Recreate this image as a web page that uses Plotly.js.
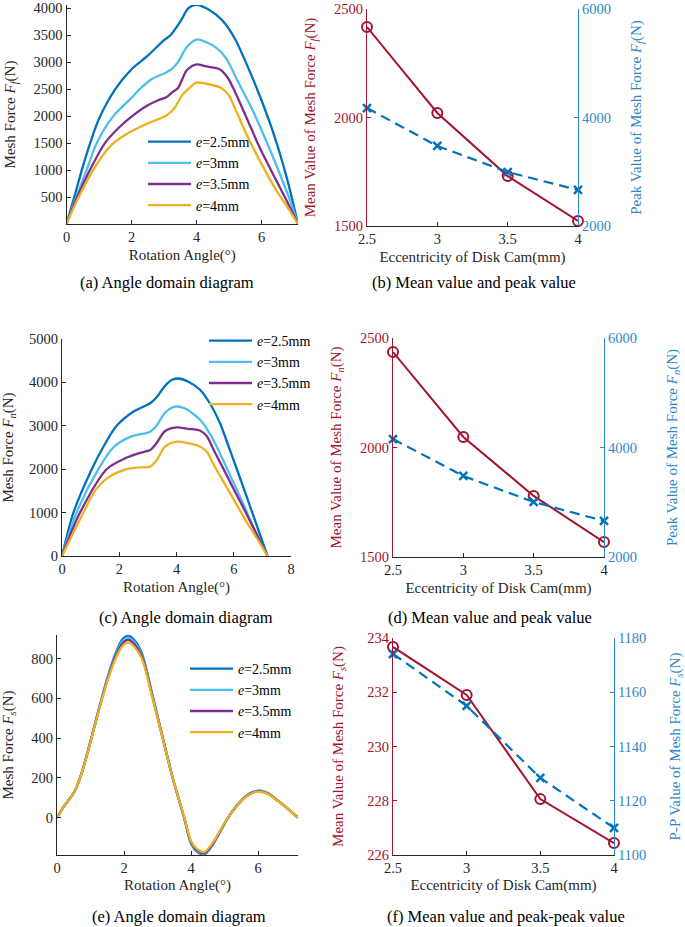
<!DOCTYPE html>
<html><head><meta charset="utf-8">
<script src="https://cdn.plot.ly/plotly-3.0.1.min.js"></script>
<style>html,body{margin:0;padding:0;background:#fff}#chart{width:685px;height:927px}</style>
</head><body><div id="chart"></div>
<script>
// ---------- DATA ----------
var seriesNames = ['<i>e</i>=2.5mm', '<i>e</i>=3mm', '<i>e</i>=3.5mm', '<i>e</i>=4mm'];
var eccentricity = [2.5, 3, 3.5, 4];

// (a) Mesh force F_f vs rotation angle
var aX25 = [0, 0.24, 0.47, 0.7, 1.0, 1.5, 2.0, 2.5, 3.0, 3.2, 3.5, 3.75, 4.0, 4.3, 4.6, 4.9, 5.2, 5.6, 6.0, 6.4, 6.8, 7.12];
var aY25 = [0, 500, 1000, 1450, 1950, 2500, 2870, 3120, 3410, 3500, 3750, 4000, 4065, 4000, 3880, 3700, 3410, 2880, 2290, 1620, 800, 0];
var aX30 = [0, 0.3, 0.62, 0.93, 1.44, 2.0, 2.25, 2.6, 3.07, 3.25, 3.43, 3.7, 4.0, 4.3, 4.6, 4.9, 5.3, 5.7, 6.1, 6.5, 6.85, 7.12];
var aY30 = [0, 500, 1000, 1500, 2000, 2340, 2500, 2680, 2810, 2880, 3000, 3280, 3420, 3370, 3270, 3080, 2610, 2140, 1600, 1020, 480, 0];
var aX35 = [0, 0.33, 0.72, 1.18, 1.6, 2.0, 2.5, 2.8, 3.07, 3.25, 3.43, 3.7, 4.0, 4.3, 4.71, 4.95, 5.12, 5.53, 5.94, 6.45, 6.8, 7.12];
var aY35 = [0, 500, 1000, 1500, 1780, 1990, 2200, 2290, 2350, 2440, 2520, 2850, 2960, 2920, 2870, 2720, 2530, 1980, 1420, 810, 400, 0];
var aX40 = [0, 0.36, 0.82, 1.2, 1.44, 1.85, 2.2, 2.6, 3.07, 3.3, 3.55, 3.74, 4.0, 4.3, 4.76, 5.0, 5.12, 5.53, 5.94, 6.45, 6.8, 7.12];
var aY40 = [0, 480, 1000, 1340, 1500, 1670, 1780, 1890, 2010, 2130, 2380, 2500, 2620, 2600, 2520, 2380, 2230, 1670, 1180, 626, 310, 0];

// (b) mean / peak of F_f
var bMean = [2417, 2021, 1730, 1523];
var bPeak = [4175, 3475, 2995, 2664];

// (c) Mesh force F_n vs rotation angle
var cX25 = [0, 0.4, 1.04, 1.5, 1.91, 2.5, 3.08, 3.3, 3.6, 3.85, 4.05, 4.4, 4.83, 5.2, 5.52, 5.9, 6.3, 6.7, 7.18];
var cY25 = [0, 1000, 2000, 2580, 3000, 3330, 3520, 3650, 3920, 4060, 4090, 4020, 3825, 3480, 3060, 2380, 1650, 900, 0];
var cX30 = [0, 0.51, 1.27, 1.79, 2.4, 3.08, 3.3, 3.6, 3.95, 4.3, 4.83, 5.2, 5.52, 5.9, 6.3, 6.7, 7.18];
var cY30 = [0, 1000, 2000, 2500, 2750, 2865, 3000, 3300, 3440, 3400, 3134, 2780, 2360, 1820, 1250, 650, 0];
var cX35 = [0, 0.63, 1.56, 2.2, 2.7, 3.08, 3.3, 3.6, 4.01, 4.4, 4.83, 5.06, 5.3, 5.6, 6.0, 6.4, 6.8, 7.18];
var cY35 = [0, 1000, 2000, 2250, 2370, 2440, 2600, 2880, 2965, 2930, 2887, 2760, 2440, 2060, 1540, 1030, 500, 0];
var cX40 = [0, 0.75, 1.15, 1.6, 2.26, 2.7, 3.08, 3.3, 3.6, 4.01, 4.4, 4.83, 5.06, 5.3, 5.6, 6.0, 6.4, 6.8, 7.18];
var cY40 = [0, 1000, 1500, 1800, 2000, 2040, 2060, 2200, 2520, 2634, 2600, 2519, 2404, 2100, 1760, 1300, 840, 420, 0];

// (d) mean / peak of F_n
var dMean = [2436, 2048, 1779, 1568];
var dPeak = [4155, 3480, 3005, 2658];

// (e) Mesh force F_s vs rotation angle
var eX = [0, 0.2, 0.38, 0.55, 0.75, 1.0, 1.25, 1.5, 1.75, 1.95, 2.13, 2.3, 2.53, 2.85, 3.15, 3.45, 3.8, 4.0, 4.2, 4.4, 4.65, 4.9, 5.1, 5.35, 5.6, 5.85, 6.06, 6.3, 6.6, 6.9, 7.19];
var eY25 = [0, 55, 95, 140, 232, 384, 548, 700, 826, 896, 915, 894, 826, 615, 406, 200, -6, -131, -174, -186, -136, -62, -2, 57, 103, 129, 135, 122, 84, 43, 0];
var eY30 = [0, 55, 95, 140, 231, 383, 545, 695, 818, 886, 905, 884, 818, 610, 404, 200, -4, -128, -170, -182, -133, -60, -1, 56, 102, 128, 134, 121, 84, 43, 0];
var eY35 = [0, 55, 95, 140, 230, 382, 542, 690, 810, 875, 893, 873, 810, 605, 402, 200, -2, -125, -166, -178, -130, -58, 0, 56, 101, 127, 132, 120, 83, 42, 0];
var eY40 = [0, 55, 95, 140, 230, 380, 540, 685, 800, 862, 880, 860, 800, 600, 400, 200, 0, -120, -160, -172, -125, -55, 0, 55, 100, 125, 130, 118, 82, 42, 0];

// (f) mean / peak-peak of F_s
var fMean = [233.67, 231.9, 228.06, 226.44];
var fPP = [1174.1, 1155, 1128.4, 1110];

// ---------- STYLE ----------
var W = 685, H = 927;
var FONT = '"Liberation Serif", "Times New Roman", Times, serif';
var DARK = '#262626';
var RED = '#A2142F';
var BLUE = '#0072BD';
var BLUEAX = '#2C88C8';
var lineColors = ['#0072BD', '#4DBEEE', '#7E2F8E', '#EDB120'];

function dx(a, b) { return [a / W, b / W]; }
function dy(top, bottom) { return [1 - bottom / H, 1 - top / H]; }

function axis(extra, color) {
  var c = color || DARK;
  var base = {
    showline: true, linecolor: c, linewidth: 1, ticks: 'inside', ticklen: 4, tickwidth: 1,
    tickcolor: c, showgrid: false, zeroline: false, automargin: false,
    tickfont: {family: FONT, size: 14.5, color: c}
  };
  return Object.assign(base, extra);
}
function ttl(text, color, standoff) {
  return {text: text, font: {family: FONT, size: 15, color: color || DARK}, standoff: standoff};
}

var traces = [];
function addCurves(xs, ys, xa, ya, leg) {
  for (var i = 0; i < 4; i++) {
    traces.push({
      x: xs[i], y: ys[i], xaxis: xa, yaxis: ya, mode: 'lines', name: seriesNames[i],
      legend: leg, line: {color: lineColors[i], width: 2.3, shape: 'spline', smoothing: 0.8}
    });
  }
}
addCurves([aX25, aX30, aX35, aX40], [aY25, aY30, aY35, aY40], 'x', 'y', 'legend');
addCurves([cX25, cX30, cX35, cX40], [cY25, cY30, cY35, cY40], 'x3', 'y4', 'legend2');
addCurves([eX, eX, eX, eX], [eY25, eY30, eY35, eY40], 'x5', 'y7', 'legend3');

function addPair(mean, peak, xa, yl, yr) {
  traces.push({
    x: eccentricity, y: mean, xaxis: xa, yaxis: yl, mode: 'lines+markers', showlegend: false, cliponaxis: false,
    line: {color: RED, width: 2}, marker: {symbol: 'circle-open', size: 10, color: RED, line: {width: 2, color: RED}}
  });
  traces.push({
    x: eccentricity, y: peak, xaxis: xa, yaxis: yr, mode: 'lines+markers', showlegend: false, cliponaxis: false,
    line: {color: BLUE, width: 2.2, dash: '10px,6px'}, marker: {symbol: 'x-thin-open', size: 8, color: BLUE, line: {width: 2.5, color: BLUE}}
  });
}
addPair(bMean, bPeak, 'x2', 'y2', 'y3');
addPair(dMean, dPeak, 'x4', 'y5', 'y6');
addPair(fMean, fPP, 'x6', 'y8', 'y9');

var eTicks = [2.5, 3, 3.5, 4];
var eTickText = ['2.5', '3', '3.5', '4'];

function legendAt(left, top) {
  return {x: left / W, y: 1 - top / H, xanchor: 'left', yanchor: 'top', bgcolor: 'rgba(0,0,0,0)',
    borderwidth: 0, font: {family: FONT, size: 14, color: '#000'}, itemwidth: 43, tracegroupgap: 0};
}

var layout = {
  width: W, height: H, margin: {l: 0, r: 0, t: 0, b: 0},
  paper_bgcolor: '#fff', plot_bgcolor: 'rgba(0,0,0,0)',
  font: {family: FONT, size: 14, color: DARK},
  // (a)
  xaxis: axis({domain: dx(66.5, 298), range: [0, 7.12], tickvals: [0, 2, 4, 6], anchor: 'y',
    title: ttl('Rotation Angle(°)', DARK, 5)}),
  yaxis: axis({domain: dy(5, 224), range: [0, 4060], tickvals: [500, 1000, 1500, 2000, 2500, 3000, 3500, 4000], anchor: 'x',
    title: ttl('Mesh Force <i>F</i><sub><i>f</i></sub>(N)', DARK, 14)}),
  // (b)
  xaxis2: axis({domain: dx(367, 578), range: [2.5, 4], tickvals: eTicks, ticktext: eTickText, anchor: 'y2',
    title: ttl('Eccentricity of Disk Cam(mm)', DARK, 5)}),
  yaxis2: axis({domain: dy(9, 226), range: [1500, 2500], tickvals: [1500, 2000, 2500], anchor: 'x2',
    title: ttl('Mean Value of Mesh Force <i>F</i><sub><i>f</i></sub>(N)', RED, 14)}, RED),
  yaxis3: axis({domain: dy(9, 226), range: [2000, 6000], tickvals: [2000, 4000, 6000], anchor: 'x2', overlaying: 'y2', side: 'right',
    title: ttl('Peak Value of Mesh Force <i>F</i><sub><i>f</i></sub>(N)', BLUEAX, 20)}, BLUEAX),
  // (c)
  xaxis3: axis({domain: dx(62, 291), range: [0, 8], tickvals: [0, 2, 4, 6, 8], anchor: 'y4',
    title: ttl('Rotation Angle(°)', DARK, 5)}),
  yaxis4: axis({domain: dy(339, 556), range: [0, 5000], tickvals: [0, 1000, 2000, 3000, 4000, 5000], anchor: 'x3',
    title: ttl('Mesh Force <i>F</i><sub><i>n</i></sub>(N)', DARK, 14)}),
  // (d)
  xaxis4: axis({domain: dx(393, 604), range: [2.5, 4], tickvals: eTicks, ticktext: eTickText, anchor: 'y5',
    title: ttl('Eccentricity of Disk Cam(mm)', DARK, 5)}),
  yaxis5: axis({domain: dy(338, 557), range: [1500, 2500], tickvals: [1500, 2000, 2500], anchor: 'x4',
    title: ttl('Mean Value of Mesh Force <i>F</i><sub><i>n</i></sub>(N)', RED, 14)}, RED),
  yaxis6: axis({domain: dy(338, 557), range: [2000, 6000], tickvals: [2000, 4000, 6000], anchor: 'x4', overlaying: 'y5', side: 'right',
    title: ttl('Peak Value of Mesh Force <i>F</i><sub><i>n</i></sub>(N)', BLUEAX, 30)}, BLUEAX),
  // (e)
  xaxis5: axis({domain: dx(57, 298), range: [0, 7.19], tickvals: [0, 2, 4, 6], anchor: 'y7',
    title: ttl('Rotation Angle(°)', DARK, 4)}),
  yaxis7: axis({domain: dy(635, 855), range: [-188, 918], tickvals: [0, 200, 400, 600, 800], anchor: 'x5',
    title: ttl('Mesh Force <i>F</i><sub><i>s</i></sub>(N)', DARK, 16)}),
  // (f)
  xaxis6: axis({domain: dx(393, 614), range: [2.5, 4], tickvals: eTicks, ticktext: eTickText, anchor: 'y8',
    title: ttl('Eccentricity of Disk Cam(mm)', DARK, 4)}),
  yaxis8: axis({domain: dy(638, 855), range: [226, 234], tickvals: [226, 228, 230, 232, 234], anchor: 'x6',
    title: ttl('Mean Value of Mesh Force <i>F</i><sub><i>s</i></sub>(N)', RED, 20)}, RED),
  yaxis9: axis({domain: dy(638, 855), range: [1100, 1180], tickvals: [1100, 1120, 1140, 1160, 1180], anchor: 'x6', overlaying: 'y8', side: 'right',
    title: ttl('P-P Value of Mesh Force <i>F</i><sub><i>s</i></sub>(N)', BLUEAX, 26)}, BLUEAX),
  legend: legendAt(143, 126),
  legend2: legendAt(204, 325),
  legend3: legendAt(185, 653),
  annotations: [
    ['(a) Angle domain diagram', 167, 283],
    ['(b) Mean value and peak value', 474, 283],
    ['(c) Angle domain diagram', 186, 617],
    ['(d) Mean value and peak value', 490, 617],
    ['(e) Angle domain diagram', 179, 916],
    ['(f) Mean value and peak-peak value', 506, 916]
  ].map(function (a) {
    return {text: a[0], x: a[1] / W, y: 1 - a[2] / H, xref: 'paper', yref: 'paper', xanchor: 'center', yanchor: 'middle',
      showarrow: false, font: {family: FONT, size: 16.5, color: '#000'}};
  })
};

Plotly.newPlot('chart', traces, layout, {displayModeBar: false, staticPlot: true});
</script></body></html>
